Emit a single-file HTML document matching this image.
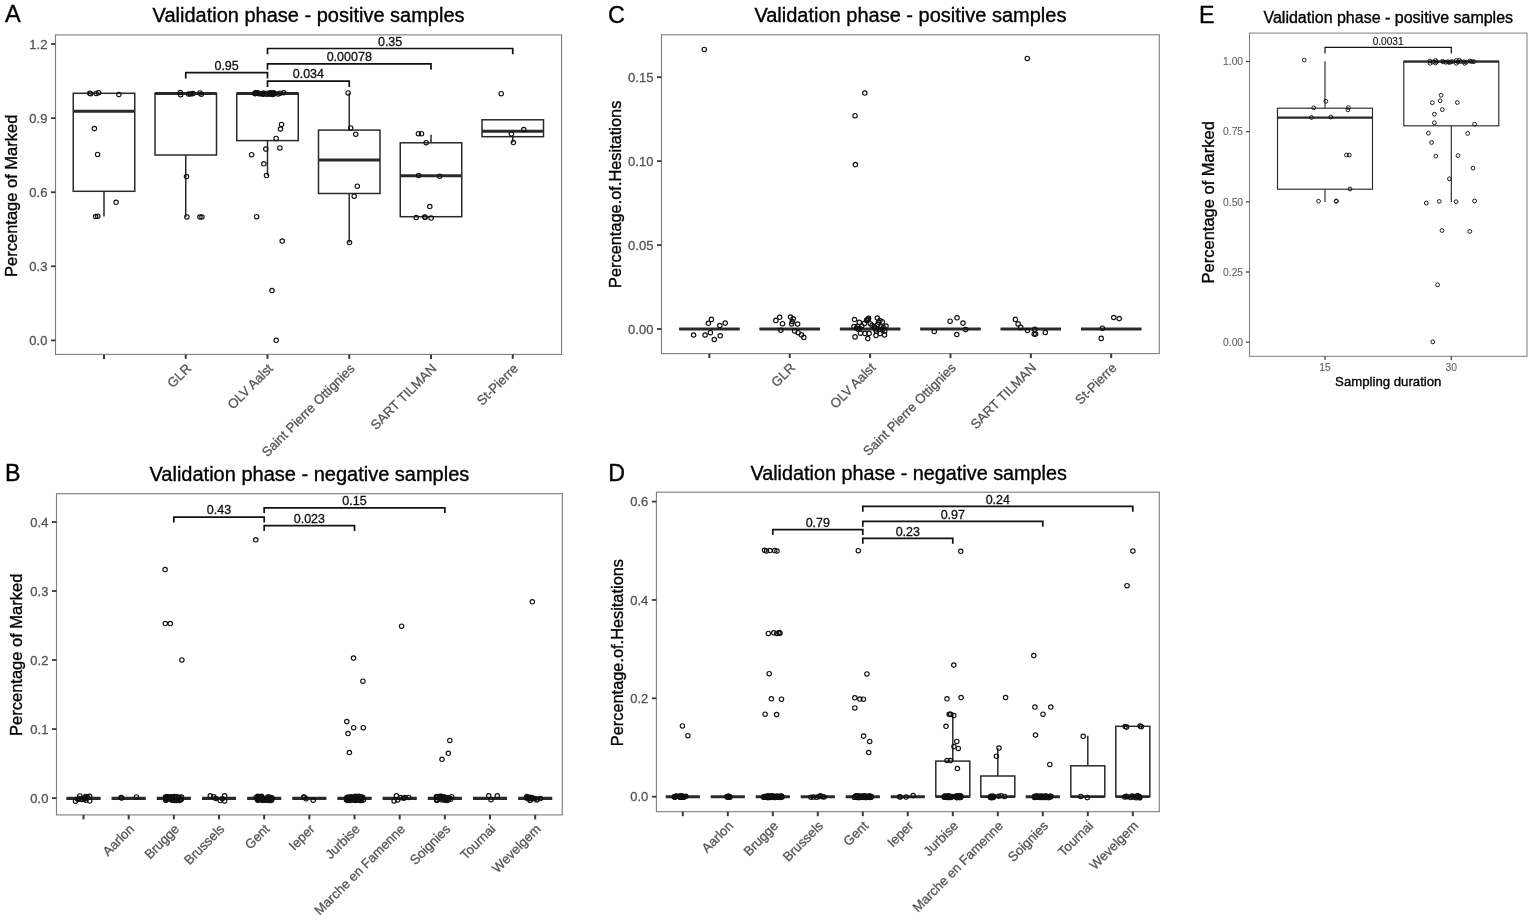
<!DOCTYPE html>
<html lang="en">
<head>
<meta charset="utf-8">
<title>Validation phase - positive and negative samples</title>
<style>
html,body{margin:0;padding:0;background:#fff;}
body{width:1535px;height:922px;overflow:hidden;}
svg{display:block;font-family:'Liberation Sans', Arial, Helvetica, sans-serif;}
</style>
</head>
<body>
<svg width="1535" height="922" viewBox="0 0 1535 922" font-family="'Liberation Sans', Arial, Helvetica, sans-serif">
<rect x="0" y="0" width="1535" height="922" fill="#ffffff"/>
<text x="4.9" y="22.3" font-size="23.6" text-anchor="start" fill="#000" stroke="#000" stroke-width="0.35">A</text>
<text x="308.55" y="21.7" font-size="20" text-anchor="middle" fill="#000" stroke="#000" stroke-width="0.35">Validation phase - positive samples</text>
<text transform="translate(17.1 195.8) rotate(-90)" font-size="16.5" text-anchor="middle" fill="#000" stroke="#000" stroke-width="0.35">Percentage of Marked</text>
<line x1="104" y1="191.3" x2="104" y2="216.5" stroke="#2a2a2a" stroke-width="1.5" stroke-linecap="butt"/>
<rect x="73.25" y="93.3" width="61.5" height="98" fill="#fff" stroke="#2a2a2a" stroke-width="1.5" stroke-linejoin="miter"/>
<line x1="73.25" y1="111.2" x2="134.75" y2="111.2" stroke="#2a2a2a" stroke-width="3.0" stroke-linecap="butt"/>
<line x1="185.75" y1="155" x2="185.75" y2="216.9" stroke="#2a2a2a" stroke-width="1.5" stroke-linecap="butt"/>
<rect x="155" y="93.3" width="61.5" height="61.7" fill="#fff" stroke="#2a2a2a" stroke-width="1.5" stroke-linejoin="miter"/>
<line x1="155" y1="93.5" x2="216.5" y2="93.5" stroke="#2a2a2a" stroke-width="3.0" stroke-linecap="butt"/>
<line x1="267.5" y1="140.6" x2="267.5" y2="175.5" stroke="#2a2a2a" stroke-width="1.5" stroke-linecap="butt"/>
<rect x="236.75" y="93.3" width="61.5" height="47.3" fill="#fff" stroke="#2a2a2a" stroke-width="1.5" stroke-linejoin="miter"/>
<line x1="236.75" y1="93.5" x2="298.25" y2="93.5" stroke="#2a2a2a" stroke-width="3.0" stroke-linecap="butt"/>
<line x1="349.25" y1="193.5" x2="349.25" y2="242.5" stroke="#2a2a2a" stroke-width="1.5" stroke-linecap="butt"/>
<line x1="349.25" y1="130.1" x2="349.25" y2="92.9" stroke="#2a2a2a" stroke-width="1.5" stroke-linecap="butt"/>
<rect x="318.5" y="130.1" width="61.5" height="63.4" fill="#fff" stroke="#2a2a2a" stroke-width="1.5" stroke-linejoin="miter"/>
<line x1="318.5" y1="160.1" x2="380" y2="160.1" stroke="#2a2a2a" stroke-width="3.0" stroke-linecap="butt"/>
<line x1="431" y1="142.8" x2="431" y2="134.7" stroke="#2a2a2a" stroke-width="1.5" stroke-linecap="butt"/>
<rect x="400.25" y="142.8" width="61.5" height="73.9" fill="#fff" stroke="#2a2a2a" stroke-width="1.5" stroke-linejoin="miter"/>
<line x1="400.25" y1="175.7" x2="461.75" y2="175.7" stroke="#2a2a2a" stroke-width="3.0" stroke-linecap="butt"/>
<line x1="512.75" y1="136.7" x2="512.75" y2="142.6" stroke="#2a2a2a" stroke-width="1.5" stroke-linecap="butt"/>
<rect x="482" y="119.8" width="61.5" height="16.9" fill="#fff" stroke="#2a2a2a" stroke-width="1.5" stroke-linejoin="miter"/>
<line x1="482" y1="131.3" x2="543.5" y2="131.3" stroke="#2a2a2a" stroke-width="3.0" stroke-linecap="butt"/>
<path d="M185.75 78.5V72.7H267.5V78.5" fill="none" stroke="#111111" stroke-width="1.7"/>
<text x="226.62" y="69.8" font-size="12.5" text-anchor="middle" fill="#111" stroke="#111" stroke-width="0.3">0.95</text>
<path d="M267.5 86.9V81.1H349.25V86.9" fill="none" stroke="#111111" stroke-width="1.7"/>
<text x="308.38" y="78.2" font-size="12.5" text-anchor="middle" fill="#111" stroke="#111" stroke-width="0.3">0.034</text>
<path d="M267.5 69.7V63.9H431V69.7" fill="none" stroke="#111111" stroke-width="1.7"/>
<text x="349.25" y="61" font-size="12.5" text-anchor="middle" fill="#111" stroke="#111" stroke-width="0.3">0.00078</text>
<path d="M267.5 54.3V48.5H512.75V54.3" fill="none" stroke="#111111" stroke-width="1.7"/>
<text x="390.12" y="45.7" font-size="12.5" text-anchor="middle" fill="#111" stroke="#111" stroke-width="0.3">0.35</text>
<g fill="none" stroke="#111111" stroke-width="1.15"><circle cx="89.8" cy="93.2" r="2.2"/><circle cx="90.6" cy="93.8" r="2.2"/><circle cx="96.1" cy="93.4" r="2.2"/><circle cx="98.6" cy="92.7" r="2.2"/><circle cx="118.9" cy="94.4" r="2.2"/><circle cx="94.4" cy="128.6" r="2.2"/><circle cx="97.6" cy="154.4" r="2.2"/><circle cx="116.1" cy="202.3" r="2.2"/><circle cx="95.7" cy="216.5" r="2.2"/><circle cx="97.8" cy="216.2" r="2.2"/><circle cx="180.3" cy="92.5" r="2.2"/><circle cx="180.6" cy="94.7" r="2.2"/><circle cx="188.6" cy="93.9" r="2.2"/><circle cx="190.6" cy="93.9" r="2.2"/><circle cx="193.1" cy="93.6" r="2.2"/><circle cx="199.9" cy="92.9" r="2.2"/><circle cx="201.3" cy="94.2" r="2.2"/><circle cx="186.5" cy="176.5" r="2.2"/><circle cx="186.9" cy="216.9" r="2.2"/><circle cx="199.9" cy="217" r="2.2"/><circle cx="201.9" cy="217" r="2.2"/><circle cx="281.5" cy="124.4" r="2.2"/><circle cx="280.5" cy="129.1" r="2.2"/><circle cx="276.1" cy="138.4" r="2.2"/><circle cx="279.9" cy="147.9" r="2.2"/><circle cx="265.8" cy="149.1" r="2.2"/><circle cx="251.6" cy="154.7" r="2.2"/><circle cx="263.9" cy="163.8" r="2.2"/><circle cx="266.5" cy="175.5" r="2.2"/><circle cx="256.6" cy="216.7" r="2.2"/><circle cx="282.2" cy="241" r="2.2"/><circle cx="272" cy="290.5" r="2.2"/><circle cx="276.2" cy="340.3" r="2.2"/><circle cx="348.1" cy="92.9" r="2.2"/><circle cx="350.7" cy="127.9" r="2.2"/><circle cx="355.7" cy="134.2" r="2.2"/><circle cx="357.3" cy="186.2" r="2.2"/><circle cx="354.2" cy="196.2" r="2.2"/><circle cx="349.5" cy="242.5" r="2.2"/><circle cx="418.4" cy="133.7" r="2.2"/><circle cx="421.5" cy="133.7" r="2.2"/><circle cx="426.2" cy="142.7" r="2.2"/><circle cx="418.6" cy="175.5" r="2.2"/><circle cx="439.7" cy="176.2" r="2.2"/><circle cx="429.8" cy="206.5" r="2.2"/><circle cx="416.2" cy="217.5" r="2.2"/><circle cx="424.7" cy="216.9" r="2.2"/><circle cx="425.2" cy="217.2" r="2.2"/><circle cx="431.1" cy="218" r="2.2"/><circle cx="501.2" cy="93.7" r="2.2"/><circle cx="523.8" cy="129.6" r="2.2"/><circle cx="511.4" cy="133.9" r="2.2"/><circle cx="513.4" cy="142.5" r="2.2"/><circle cx="263.54" cy="92.97" r="2.2"/><circle cx="273.68" cy="92.83" r="2.2"/><circle cx="270.11" cy="93.36" r="2.2"/><circle cx="255.3" cy="93.61" r="2.2"/><circle cx="254.66" cy="93.48" r="2.2"/><circle cx="255.67" cy="92.86" r="2.2"/><circle cx="266.66" cy="94.19" r="2.2"/><circle cx="257.34" cy="93.1" r="2.2"/><circle cx="272.95" cy="94.41" r="2.2"/><circle cx="271.39" cy="93.41" r="2.2"/><circle cx="283.76" cy="92.78" r="2.2"/><circle cx="280.11" cy="93.22" r="2.2"/><circle cx="257.97" cy="92.91" r="2.2"/><circle cx="263.06" cy="94.17" r="2.2"/><circle cx="259.1" cy="93.75" r="2.2"/><circle cx="273.31" cy="93.37" r="2.2"/><circle cx="270.48" cy="92.81" r="2.2"/><circle cx="255.35" cy="93.07" r="2.2"/><circle cx="274.59" cy="93.47" r="2.2"/><circle cx="263.24" cy="93.75" r="2.2"/><circle cx="267.55" cy="93.24" r="2.2"/><circle cx="278.13" cy="93.96" r="2.2"/><circle cx="261.07" cy="93.73" r="2.2"/><circle cx="269.78" cy="94.28" r="2.2"/></g>
<rect x="55.5" y="34.9" width="506.1" height="319.5" fill="none" stroke="#7d7d7d" stroke-width="1.1"/>
<line x1="51" y1="340.4" x2="55.5" y2="340.4" stroke="#3a3a3a" stroke-width="1.8" stroke-linecap="butt"/>
<text x="47.4" y="345.05" font-size="13" text-anchor="end" fill="#555555" stroke="#555555" stroke-width="0.3">0.0</text>
<line x1="51" y1="266.3" x2="55.5" y2="266.3" stroke="#3a3a3a" stroke-width="1.8" stroke-linecap="butt"/>
<text x="47.4" y="270.95" font-size="13" text-anchor="end" fill="#555555" stroke="#555555" stroke-width="0.3">0.3</text>
<line x1="51" y1="192.2" x2="55.5" y2="192.2" stroke="#3a3a3a" stroke-width="1.8" stroke-linecap="butt"/>
<text x="47.4" y="196.85" font-size="13" text-anchor="end" fill="#555555" stroke="#555555" stroke-width="0.3">0.6</text>
<line x1="51" y1="118.1" x2="55.5" y2="118.1" stroke="#3a3a3a" stroke-width="1.8" stroke-linecap="butt"/>
<text x="47.4" y="122.75" font-size="13" text-anchor="end" fill="#555555" stroke="#555555" stroke-width="0.3">0.9</text>
<line x1="51" y1="44" x2="55.5" y2="44" stroke="#3a3a3a" stroke-width="1.8" stroke-linecap="butt"/>
<text x="47.4" y="48.65" font-size="13" text-anchor="end" fill="#555555" stroke="#555555" stroke-width="0.3">1.2</text>
<line x1="104" y1="354.4" x2="104" y2="358.9" stroke="#3a3a3a" stroke-width="2.0" stroke-linecap="butt"/>
<line x1="185.75" y1="354.4" x2="185.75" y2="358.9" stroke="#3a3a3a" stroke-width="2.0" stroke-linecap="butt"/>
<text transform="translate(191.95 369.3) rotate(-45)" font-size="13.2" text-anchor="end" fill="#555555" stroke="#555555" stroke-width="0.3">GLR</text>
<line x1="267.5" y1="354.4" x2="267.5" y2="358.9" stroke="#3a3a3a" stroke-width="2.0" stroke-linecap="butt"/>
<text transform="translate(273.7 369.3) rotate(-45)" font-size="13.2" text-anchor="end" fill="#555555" stroke="#555555" stroke-width="0.3">OLV Aalst</text>
<line x1="349.25" y1="354.4" x2="349.25" y2="358.9" stroke="#3a3a3a" stroke-width="2.0" stroke-linecap="butt"/>
<text transform="translate(355.45 369.3) rotate(-45)" font-size="13.2" text-anchor="end" fill="#555555" stroke="#555555" stroke-width="0.3">Saint Pierre Ottignies</text>
<line x1="431" y1="354.4" x2="431" y2="358.9" stroke="#3a3a3a" stroke-width="2.0" stroke-linecap="butt"/>
<text transform="translate(437.2 369.3) rotate(-45)" font-size="13.2" text-anchor="end" fill="#555555" stroke="#555555" stroke-width="0.3">SART TILMAN</text>
<line x1="512.75" y1="354.4" x2="512.75" y2="358.9" stroke="#3a3a3a" stroke-width="2.0" stroke-linecap="butt"/>
<text transform="translate(518.95 369.3) rotate(-45)" font-size="13.2" text-anchor="end" fill="#555555" stroke="#555555" stroke-width="0.3">St-Pierre</text>
<text x="4.9" y="481.1" font-size="23.2" text-anchor="start" fill="#000" stroke="#000" stroke-width="0.35">B</text>
<text x="309.4" y="481" font-size="20" text-anchor="middle" fill="#000" stroke="#000" stroke-width="0.35">Validation phase - negative samples</text>
<text transform="translate(22 654.8) rotate(-90)" font-size="16.5" text-anchor="middle" fill="#000" stroke="#000" stroke-width="0.35">Percentage of Marked</text>
<line x1="66.5" y1="798.4" x2="100.5" y2="798.4" stroke="#2a2a2a" stroke-width="1.5" stroke-linecap="butt"/>
<line x1="66.5" y1="798.4" x2="100.5" y2="798.4" stroke="#2a2a2a" stroke-width="3.1" stroke-linecap="butt"/>
<line x1="111.67" y1="798.4" x2="145.67" y2="798.4" stroke="#2a2a2a" stroke-width="1.5" stroke-linecap="butt"/>
<line x1="111.67" y1="798.4" x2="145.67" y2="798.4" stroke="#2a2a2a" stroke-width="3.1" stroke-linecap="butt"/>
<line x1="156.84" y1="798.4" x2="190.84" y2="798.4" stroke="#2a2a2a" stroke-width="1.5" stroke-linecap="butt"/>
<line x1="156.84" y1="798.4" x2="190.84" y2="798.4" stroke="#2a2a2a" stroke-width="3.1" stroke-linecap="butt"/>
<line x1="202.01" y1="798.4" x2="236.01" y2="798.4" stroke="#2a2a2a" stroke-width="1.5" stroke-linecap="butt"/>
<line x1="202.01" y1="798.4" x2="236.01" y2="798.4" stroke="#2a2a2a" stroke-width="3.1" stroke-linecap="butt"/>
<line x1="247.18" y1="798.4" x2="281.18" y2="798.4" stroke="#2a2a2a" stroke-width="1.5" stroke-linecap="butt"/>
<line x1="247.18" y1="798.4" x2="281.18" y2="798.4" stroke="#2a2a2a" stroke-width="3.1" stroke-linecap="butt"/>
<line x1="292.35" y1="798.4" x2="326.35" y2="798.4" stroke="#2a2a2a" stroke-width="1.5" stroke-linecap="butt"/>
<line x1="292.35" y1="798.4" x2="326.35" y2="798.4" stroke="#2a2a2a" stroke-width="3.1" stroke-linecap="butt"/>
<line x1="337.52" y1="798.4" x2="371.52" y2="798.4" stroke="#2a2a2a" stroke-width="1.5" stroke-linecap="butt"/>
<line x1="337.52" y1="798.4" x2="371.52" y2="798.4" stroke="#2a2a2a" stroke-width="3.1" stroke-linecap="butt"/>
<line x1="382.69" y1="798.4" x2="416.69" y2="798.4" stroke="#2a2a2a" stroke-width="1.5" stroke-linecap="butt"/>
<line x1="382.69" y1="798.4" x2="416.69" y2="798.4" stroke="#2a2a2a" stroke-width="3.1" stroke-linecap="butt"/>
<line x1="427.86" y1="798.4" x2="461.86" y2="798.4" stroke="#2a2a2a" stroke-width="1.5" stroke-linecap="butt"/>
<line x1="427.86" y1="798.4" x2="461.86" y2="798.4" stroke="#2a2a2a" stroke-width="3.1" stroke-linecap="butt"/>
<line x1="473.03" y1="798.4" x2="507.03" y2="798.4" stroke="#2a2a2a" stroke-width="1.5" stroke-linecap="butt"/>
<line x1="473.03" y1="798.4" x2="507.03" y2="798.4" stroke="#2a2a2a" stroke-width="3.1" stroke-linecap="butt"/>
<line x1="518.2" y1="798.4" x2="552.2" y2="798.4" stroke="#2a2a2a" stroke-width="1.5" stroke-linecap="butt"/>
<line x1="518.2" y1="798.4" x2="552.2" y2="798.4" stroke="#2a2a2a" stroke-width="3.1" stroke-linecap="butt"/>
<path d="M173.84 522.4V517.1H264.18V522.4" fill="none" stroke="#111111" stroke-width="1.7"/>
<text x="219.01" y="514" font-size="12.5" text-anchor="middle" fill="#111" stroke="#111" stroke-width="0.3">0.43</text>
<path d="M264.18 530.9V525.6H354.52V530.9" fill="none" stroke="#111111" stroke-width="1.7"/>
<text x="309.35" y="523.2" font-size="12.5" text-anchor="middle" fill="#111" stroke="#111" stroke-width="0.3">0.023</text>
<path d="M264.18 513.1V507.8H444.86V513.1" fill="none" stroke="#111111" stroke-width="1.7"/>
<text x="354.52" y="505" font-size="12.5" text-anchor="middle" fill="#111" stroke="#111" stroke-width="0.3">0.15</text>
<g fill="none" stroke="#111111" stroke-width="1.15"><circle cx="165.1" cy="569.5" r="2.2"/><circle cx="255.8" cy="539.8" r="2.2"/><circle cx="165.3" cy="623.5" r="2.2"/><circle cx="170.3" cy="623.5" r="2.2"/><circle cx="181.9" cy="659.9" r="2.2"/><circle cx="401.6" cy="626.2" r="2.2"/><circle cx="532.3" cy="601.8" r="2.2"/><circle cx="353.5" cy="658.1" r="2.2"/><circle cx="362.9" cy="681.2" r="2.2"/><circle cx="346.8" cy="721.6" r="2.2"/><circle cx="353.7" cy="727.7" r="2.2"/><circle cx="363.3" cy="727.7" r="2.2"/><circle cx="348" cy="733.5" r="2.2"/><circle cx="349.4" cy="752.5" r="2.2"/><circle cx="449.8" cy="740.4" r="2.2"/><circle cx="448.3" cy="753.3" r="2.2"/><circle cx="442" cy="759.3" r="2.2"/><circle cx="121.1" cy="797.6" r="2.2"/><circle cx="121.6" cy="798" r="2.2"/><circle cx="136.4" cy="796.9" r="2.2"/><circle cx="303.8" cy="797" r="2.2"/><circle cx="304.2" cy="797.3" r="2.2"/><circle cx="306.1" cy="798.8" r="2.2"/><circle cx="313.2" cy="800.2" r="2.2"/><circle cx="488.7" cy="795.8" r="2.2"/><circle cx="497.3" cy="795.8" r="2.2"/><circle cx="491" cy="799.7" r="2.2"/><circle cx="396.4" cy="795.8" r="2.2"/><circle cx="394.1" cy="800.9" r="2.2"/><circle cx="397.6" cy="799.9" r="2.2"/><circle cx="400.5" cy="797.6" r="2.2"/><circle cx="403.5" cy="798.2" r="2.2"/><circle cx="405.2" cy="797.6" r="2.2"/><circle cx="408.7" cy="797.4" r="2.2"/><circle cx="210.3" cy="795.8" r="2.2"/><circle cx="213.8" cy="796.8" r="2.2"/><circle cx="215.8" cy="798.5" r="2.2"/><circle cx="220.2" cy="800.5" r="2.2"/><circle cx="224.6" cy="795.8" r="2.2"/><circle cx="224.6" cy="801.1" r="2.2"/><circle cx="222.3" cy="798.8" r="2.2"/><circle cx="75.5" cy="801.2" r="2.2"/><circle cx="89.6" cy="796.3" r="2.2"/><circle cx="89.7" cy="801" r="2.2"/><circle cx="85.6" cy="796.4" r="2.2"/><circle cx="79.8" cy="795.9" r="2.2"/><circle cx="84.79" cy="797.65" r="2.2"/><circle cx="87.3" cy="796.97" r="2.2"/><circle cx="81.68" cy="799.53" r="2.2"/><circle cx="79.02" cy="798.46" r="2.2"/><circle cx="77.89" cy="799.17" r="2.2"/><circle cx="85.15" cy="798.79" r="2.2"/><circle cx="86.25" cy="797.75" r="2.2"/><circle cx="84.45" cy="798.88" r="2.2"/><circle cx="83.3" cy="798.32" r="2.2"/><circle cx="85.9" cy="800.28" r="2.2"/><circle cx="82.24" cy="799.16" r="2.2"/><circle cx="78.11" cy="799.31" r="2.2"/><circle cx="176.31" cy="800.47" r="2.2"/><circle cx="179.23" cy="797.64" r="2.2"/><circle cx="171.94" cy="799.17" r="2.2"/><circle cx="165.88" cy="798.35" r="2.2"/><circle cx="168.31" cy="796.97" r="2.2"/><circle cx="166.48" cy="799.57" r="2.2"/><circle cx="167.66" cy="797.49" r="2.2"/><circle cx="172.03" cy="799.99" r="2.2"/><circle cx="166.85" cy="798.3" r="2.2"/><circle cx="174.68" cy="800.03" r="2.2"/><circle cx="179.18" cy="799.96" r="2.2"/><circle cx="170.15" cy="798.16" r="2.2"/><circle cx="171.49" cy="800.04" r="2.2"/><circle cx="181.49" cy="797.1" r="2.2"/><circle cx="168.44" cy="797.43" r="2.2"/><circle cx="169.4" cy="798.44" r="2.2"/><circle cx="175.34" cy="797.55" r="2.2"/><circle cx="165.57" cy="798.18" r="2.2"/><circle cx="171.67" cy="798.77" r="2.2"/><circle cx="181.42" cy="799.26" r="2.2"/><circle cx="174.11" cy="798.97" r="2.2"/><circle cx="176.79" cy="796.72" r="2.2"/><circle cx="180.52" cy="799.62" r="2.2"/><circle cx="180.1" cy="799.69" r="2.2"/><circle cx="172.05" cy="798.1" r="2.2"/><circle cx="167.23" cy="799.04" r="2.2"/><circle cx="166.54" cy="796.77" r="2.2"/><circle cx="168.99" cy="797.15" r="2.2"/><circle cx="171.18" cy="796.71" r="2.2"/><circle cx="165.5" cy="797.11" r="2.2"/><circle cx="167.19" cy="797.95" r="2.2"/><circle cx="165.93" cy="800" r="2.2"/><circle cx="175.75" cy="797.09" r="2.2"/><circle cx="169.71" cy="797.89" r="2.2"/><circle cx="171.58" cy="796.99" r="2.2"/><circle cx="179.68" cy="800.47" r="2.2"/><circle cx="173.28" cy="798.44" r="2.2"/><circle cx="166.93" cy="796.91" r="2.2"/><circle cx="171.22" cy="797.56" r="2.2"/><circle cx="179.34" cy="797.15" r="2.2"/><circle cx="165.89" cy="800.3" r="2.2"/><circle cx="174.32" cy="797.09" r="2.2"/><circle cx="174.57" cy="796.61" r="2.2"/><circle cx="174.32" cy="800.41" r="2.2"/><circle cx="179.92" cy="799.28" r="2.2"/><circle cx="259.96" cy="797.81" r="2.2"/><circle cx="258.39" cy="799.6" r="2.2"/><circle cx="264.49" cy="799.63" r="2.2"/><circle cx="261.11" cy="797.18" r="2.2"/><circle cx="269.15" cy="800.53" r="2.2"/><circle cx="269.84" cy="799.75" r="2.2"/><circle cx="269.27" cy="799.46" r="2.2"/><circle cx="259.39" cy="798.48" r="2.2"/><circle cx="261.54" cy="796.33" r="2.2"/><circle cx="256.07" cy="797.43" r="2.2"/><circle cx="259.93" cy="799.25" r="2.2"/><circle cx="271.57" cy="798.17" r="2.2"/><circle cx="271.25" cy="800.55" r="2.2"/><circle cx="271.55" cy="797.8" r="2.2"/><circle cx="259.28" cy="797.2" r="2.2"/><circle cx="258.88" cy="797.1" r="2.2"/><circle cx="266.02" cy="800.16" r="2.2"/><circle cx="269.64" cy="798.31" r="2.2"/><circle cx="266.5" cy="799.72" r="2.2"/><circle cx="257.02" cy="799.11" r="2.2"/><circle cx="270.79" cy="799.64" r="2.2"/><circle cx="268.13" cy="798.3" r="2.2"/><circle cx="258.58" cy="799.67" r="2.2"/><circle cx="261.15" cy="799.72" r="2.2"/><circle cx="271.83" cy="797.94" r="2.2"/><circle cx="262.3" cy="800.37" r="2.2"/><circle cx="267.7" cy="796.95" r="2.2"/><circle cx="257.72" cy="796.87" r="2.2"/><circle cx="270.71" cy="799.75" r="2.2"/><circle cx="258.04" cy="799.84" r="2.2"/><circle cx="271.97" cy="799.09" r="2.2"/><circle cx="261.45" cy="798.61" r="2.2"/><circle cx="257.79" cy="796.26" r="2.2"/><circle cx="271.81" cy="799.06" r="2.2"/><circle cx="264.39" cy="800.31" r="2.2"/><circle cx="262.84" cy="800.04" r="2.2"/><circle cx="269.4" cy="797.13" r="2.2"/><circle cx="259.81" cy="797.49" r="2.2"/><circle cx="259.62" cy="798.78" r="2.2"/><circle cx="259.93" cy="798.04" r="2.2"/><circle cx="257.79" cy="800.2" r="2.2"/><circle cx="261.51" cy="798.22" r="2.2"/><circle cx="265.34" cy="800.18" r="2.2"/><circle cx="262.62" cy="800.24" r="2.2"/><circle cx="263.98" cy="798.54" r="2.2"/><circle cx="355.46" cy="796.28" r="2.2"/><circle cx="354.01" cy="797.01" r="2.2"/><circle cx="346.47" cy="799.72" r="2.2"/><circle cx="349.38" cy="798.28" r="2.2"/><circle cx="358.95" cy="798.65" r="2.2"/><circle cx="352.04" cy="798.48" r="2.2"/><circle cx="356.01" cy="799.65" r="2.2"/><circle cx="348.24" cy="798.67" r="2.2"/><circle cx="350.7" cy="797.42" r="2.2"/><circle cx="359.76" cy="798.43" r="2.2"/><circle cx="356.12" cy="799.54" r="2.2"/><circle cx="362.19" cy="798.15" r="2.2"/><circle cx="357" cy="798.42" r="2.2"/><circle cx="355.26" cy="799.25" r="2.2"/><circle cx="354.23" cy="798.55" r="2.2"/><circle cx="354.67" cy="800.34" r="2.2"/><circle cx="358.5" cy="800.06" r="2.2"/><circle cx="362.7" cy="797.34" r="2.2"/><circle cx="356.08" cy="800.35" r="2.2"/><circle cx="360.93" cy="796.8" r="2.2"/><circle cx="348.5" cy="798.15" r="2.2"/><circle cx="347.66" cy="797.26" r="2.2"/><circle cx="347.66" cy="799.15" r="2.2"/><circle cx="359.96" cy="800.15" r="2.2"/><circle cx="349.07" cy="799.35" r="2.2"/><circle cx="357.82" cy="796.83" r="2.2"/><circle cx="361.67" cy="800.46" r="2.2"/><circle cx="350.2" cy="800.39" r="2.2"/><circle cx="353.29" cy="798.34" r="2.2"/><circle cx="363.52" cy="799.86" r="2.2"/><circle cx="349.19" cy="798.1" r="2.2"/><circle cx="355.32" cy="797.69" r="2.2"/><circle cx="349.79" cy="797.6" r="2.2"/><circle cx="358.89" cy="796.29" r="2.2"/><circle cx="355.99" cy="798.14" r="2.2"/><circle cx="346.71" cy="797.66" r="2.2"/><circle cx="357.19" cy="798.45" r="2.2"/><circle cx="347.51" cy="800.53" r="2.2"/><circle cx="360.04" cy="800.48" r="2.2"/><circle cx="348.21" cy="797.37" r="2.2"/><circle cx="347.08" cy="799.63" r="2.2"/><circle cx="351.08" cy="796.77" r="2.2"/><circle cx="353.7" cy="800.21" r="2.2"/><circle cx="360.57" cy="797.34" r="2.2"/><circle cx="348.98" cy="800.24" r="2.2"/><circle cx="445.41" cy="799.28" r="2.2"/><circle cx="437.14" cy="796.45" r="2.2"/><circle cx="447.44" cy="798.07" r="2.2"/><circle cx="436.85" cy="800.33" r="2.2"/><circle cx="446.51" cy="799.73" r="2.2"/><circle cx="437.04" cy="799.97" r="2.2"/><circle cx="436.75" cy="800" r="2.2"/><circle cx="443.4" cy="797.69" r="2.2"/><circle cx="445.11" cy="800.28" r="2.2"/><circle cx="440.21" cy="796.77" r="2.2"/><circle cx="444.66" cy="797.25" r="2.2"/><circle cx="437.48" cy="796.91" r="2.2"/><circle cx="436.47" cy="797.09" r="2.2"/><circle cx="440.97" cy="797.54" r="2.2"/><circle cx="448.66" cy="797.48" r="2.2"/><circle cx="444.2" cy="796.98" r="2.2"/><circle cx="441.57" cy="796.28" r="2.2"/><circle cx="439.91" cy="796.27" r="2.2"/><circle cx="448.21" cy="798.62" r="2.2"/><circle cx="438.86" cy="798.29" r="2.2"/><circle cx="451.68" cy="796.67" r="2.2"/><circle cx="449.69" cy="798.1" r="2.2"/><circle cx="444.11" cy="799.87" r="2.2"/><circle cx="442.36" cy="798.43" r="2.2"/><circle cx="447.43" cy="800.52" r="2.2"/><circle cx="441.49" cy="799.86" r="2.2"/><circle cx="447.76" cy="799" r="2.2"/><circle cx="442.56" cy="797.73" r="2.2"/><circle cx="436.54" cy="796.77" r="2.2"/><circle cx="436.82" cy="799.46" r="2.2"/><circle cx="440" cy="796.92" r="2.2"/><circle cx="437.05" cy="799.9" r="2.2"/><circle cx="450.57" cy="799.15" r="2.2"/><circle cx="440.45" cy="797.27" r="2.2"/><circle cx="440.64" cy="798.22" r="2.2"/><circle cx="528.67" cy="798.18" r="2.2"/><circle cx="530.19" cy="800.25" r="2.2"/><circle cx="540.41" cy="798.59" r="2.2"/><circle cx="529.92" cy="800.26" r="2.2"/><circle cx="530.86" cy="797.83" r="2.2"/><circle cx="526.42" cy="797.93" r="2.2"/><circle cx="533.23" cy="798.41" r="2.2"/><circle cx="529.29" cy="798.42" r="2.2"/><circle cx="526.47" cy="797.46" r="2.2"/><circle cx="527.69" cy="798" r="2.2"/><circle cx="527" cy="796.49" r="2.2"/><circle cx="530.78" cy="797.33" r="2.2"/><circle cx="534.83" cy="798.52" r="2.2"/><circle cx="537.21" cy="799.03" r="2.2"/><circle cx="536.71" cy="799.92" r="2.2"/><circle cx="532.01" cy="797.7" r="2.2"/></g>
<rect x="56.5" y="493.7" width="505.8" height="321.2" fill="none" stroke="#7d7d7d" stroke-width="1.1"/>
<line x1="52" y1="798.1" x2="56.5" y2="798.1" stroke="#3a3a3a" stroke-width="1.8" stroke-linecap="butt"/>
<text x="48.4" y="802.75" font-size="13" text-anchor="end" fill="#555555" stroke="#555555" stroke-width="0.3">0.0</text>
<line x1="52" y1="729.07" x2="56.5" y2="729.07" stroke="#3a3a3a" stroke-width="1.8" stroke-linecap="butt"/>
<text x="48.4" y="733.72" font-size="13" text-anchor="end" fill="#555555" stroke="#555555" stroke-width="0.3">0.1</text>
<line x1="52" y1="660.04" x2="56.5" y2="660.04" stroke="#3a3a3a" stroke-width="1.8" stroke-linecap="butt"/>
<text x="48.4" y="664.69" font-size="13" text-anchor="end" fill="#555555" stroke="#555555" stroke-width="0.3">0.2</text>
<line x1="52" y1="591.01" x2="56.5" y2="591.01" stroke="#3a3a3a" stroke-width="1.8" stroke-linecap="butt"/>
<text x="48.4" y="595.66" font-size="13" text-anchor="end" fill="#555555" stroke="#555555" stroke-width="0.3">0.3</text>
<line x1="52" y1="521.98" x2="56.5" y2="521.98" stroke="#3a3a3a" stroke-width="1.8" stroke-linecap="butt"/>
<text x="48.4" y="526.63" font-size="13" text-anchor="end" fill="#555555" stroke="#555555" stroke-width="0.3">0.4</text>
<line x1="83.5" y1="814.9" x2="83.5" y2="819.4" stroke="#3a3a3a" stroke-width="2.0" stroke-linecap="butt"/>
<line x1="128.67" y1="814.9" x2="128.67" y2="819.4" stroke="#3a3a3a" stroke-width="2.0" stroke-linecap="butt"/>
<text transform="translate(134.87 829.8) rotate(-45)" font-size="13.2" text-anchor="end" fill="#555555" stroke="#555555" stroke-width="0.3">Aarlon</text>
<line x1="173.84" y1="814.9" x2="173.84" y2="819.4" stroke="#3a3a3a" stroke-width="2.0" stroke-linecap="butt"/>
<text transform="translate(180.04 829.8) rotate(-45)" font-size="13.2" text-anchor="end" fill="#555555" stroke="#555555" stroke-width="0.3">Brugge</text>
<line x1="219.01" y1="814.9" x2="219.01" y2="819.4" stroke="#3a3a3a" stroke-width="2.0" stroke-linecap="butt"/>
<text transform="translate(225.21 829.8) rotate(-45)" font-size="13.2" text-anchor="end" fill="#555555" stroke="#555555" stroke-width="0.3">Brussels</text>
<line x1="264.18" y1="814.9" x2="264.18" y2="819.4" stroke="#3a3a3a" stroke-width="2.0" stroke-linecap="butt"/>
<text transform="translate(270.38 829.8) rotate(-45)" font-size="13.2" text-anchor="end" fill="#555555" stroke="#555555" stroke-width="0.3">Gent</text>
<line x1="309.35" y1="814.9" x2="309.35" y2="819.4" stroke="#3a3a3a" stroke-width="2.0" stroke-linecap="butt"/>
<text transform="translate(315.55 829.8) rotate(-45)" font-size="13.2" text-anchor="end" fill="#555555" stroke="#555555" stroke-width="0.3">Ieper</text>
<line x1="354.52" y1="814.9" x2="354.52" y2="819.4" stroke="#3a3a3a" stroke-width="2.0" stroke-linecap="butt"/>
<text transform="translate(360.72 829.8) rotate(-45)" font-size="13.2" text-anchor="end" fill="#555555" stroke="#555555" stroke-width="0.3">Jurbise</text>
<line x1="399.69" y1="814.9" x2="399.69" y2="819.4" stroke="#3a3a3a" stroke-width="2.0" stroke-linecap="butt"/>
<text transform="translate(405.89 829.8) rotate(-45)" font-size="13.2" text-anchor="end" fill="#555555" stroke="#555555" stroke-width="0.3">Marche en Famenne</text>
<line x1="444.86" y1="814.9" x2="444.86" y2="819.4" stroke="#3a3a3a" stroke-width="2.0" stroke-linecap="butt"/>
<text transform="translate(451.06 829.8) rotate(-45)" font-size="13.2" text-anchor="end" fill="#555555" stroke="#555555" stroke-width="0.3">Soignies</text>
<line x1="490.03" y1="814.9" x2="490.03" y2="819.4" stroke="#3a3a3a" stroke-width="2.0" stroke-linecap="butt"/>
<text transform="translate(496.23 829.8) rotate(-45)" font-size="13.2" text-anchor="end" fill="#555555" stroke="#555555" stroke-width="0.3">Tournai</text>
<line x1="535.2" y1="814.9" x2="535.2" y2="819.4" stroke="#3a3a3a" stroke-width="2.0" stroke-linecap="butt"/>
<text transform="translate(541.4 829.8) rotate(-45)" font-size="13.2" text-anchor="end" fill="#555555" stroke="#555555" stroke-width="0.3">Wevelgem</text>
<text x="608" y="22.9" font-size="23.4" text-anchor="start" fill="#000" stroke="#000" stroke-width="0.35">C</text>
<text x="910.4" y="22.3" font-size="20" text-anchor="middle" fill="#000" stroke="#000" stroke-width="0.35">Validation phase - positive samples</text>
<text transform="translate(620.6 194.3) rotate(-90)" font-size="16.38" text-anchor="middle" fill="#000" stroke="#000" stroke-width="0.35">Percentage.of.Hesitations</text>
<line x1="679.2" y1="329" x2="739.6" y2="329" stroke="#2a2a2a" stroke-width="1.5" stroke-linecap="butt"/>
<line x1="679.2" y1="329" x2="739.6" y2="329" stroke="#2a2a2a" stroke-width="3.1" stroke-linecap="butt"/>
<line x1="759.56" y1="329" x2="819.96" y2="329" stroke="#2a2a2a" stroke-width="1.5" stroke-linecap="butt"/>
<line x1="759.56" y1="329" x2="819.96" y2="329" stroke="#2a2a2a" stroke-width="3.1" stroke-linecap="butt"/>
<line x1="839.92" y1="329" x2="900.32" y2="329" stroke="#2a2a2a" stroke-width="1.5" stroke-linecap="butt"/>
<line x1="839.92" y1="329" x2="900.32" y2="329" stroke="#2a2a2a" stroke-width="3.1" stroke-linecap="butt"/>
<line x1="920.28" y1="329" x2="980.68" y2="329" stroke="#2a2a2a" stroke-width="1.5" stroke-linecap="butt"/>
<line x1="920.28" y1="329" x2="980.68" y2="329" stroke="#2a2a2a" stroke-width="3.1" stroke-linecap="butt"/>
<line x1="1000.64" y1="329" x2="1061.04" y2="329" stroke="#2a2a2a" stroke-width="1.5" stroke-linecap="butt"/>
<line x1="1000.64" y1="329" x2="1061.04" y2="329" stroke="#2a2a2a" stroke-width="3.1" stroke-linecap="butt"/>
<line x1="1081" y1="329" x2="1141.4" y2="329" stroke="#2a2a2a" stroke-width="1.5" stroke-linecap="butt"/>
<line x1="1081" y1="329" x2="1141.4" y2="329" stroke="#2a2a2a" stroke-width="3.1" stroke-linecap="butt"/>
<g fill="none" stroke="#111111" stroke-width="1.15"><circle cx="704.3" cy="49.4" r="2.2"/><circle cx="864.8" cy="93" r="2.2"/><circle cx="855" cy="115.7" r="2.2"/><circle cx="855.4" cy="164.6" r="2.2"/><circle cx="1027.3" cy="58.4" r="2.2"/><circle cx="711.4" cy="319.4" r="2.2"/><circle cx="708.4" cy="323.3" r="2.2"/><circle cx="725.2" cy="323.1" r="2.2"/><circle cx="719.8" cy="325.5" r="2.2"/><circle cx="710.4" cy="332.7" r="2.2"/><circle cx="705.1" cy="335" r="2.2"/><circle cx="693.6" cy="335" r="2.2"/><circle cx="720.2" cy="335.8" r="2.2"/><circle cx="714.3" cy="339.5" r="2.2"/><circle cx="779.6" cy="317.3" r="2.2"/><circle cx="775.9" cy="320.4" r="2.2"/><circle cx="790.5" cy="317.1" r="2.2"/><circle cx="793.2" cy="318.8" r="2.2"/><circle cx="792.3" cy="321.6" r="2.2"/><circle cx="791.7" cy="323.9" r="2.2"/><circle cx="782.5" cy="323.7" r="2.2"/><circle cx="797.6" cy="324.1" r="2.2"/><circle cx="780.9" cy="330.2" r="2.2"/><circle cx="794.6" cy="330.9" r="2.2"/><circle cx="798.1" cy="332.7" r="2.2"/><circle cx="801.5" cy="334.9" r="2.2"/><circle cx="803.8" cy="337.4" r="2.2"/><circle cx="934.3" cy="331.5" r="2.2"/><circle cx="950.1" cy="321.2" r="2.2"/><circle cx="957" cy="317.8" r="2.2"/><circle cx="963" cy="323.1" r="2.2"/><circle cx="965.6" cy="329.6" r="2.2"/><circle cx="956.8" cy="334.5" r="2.2"/><circle cx="1015.4" cy="319.4" r="2.2"/><circle cx="1018.1" cy="323.9" r="2.2"/><circle cx="1020.7" cy="327.4" r="2.2"/><circle cx="1027.5" cy="330.5" r="2.2"/><circle cx="1034.7" cy="329.4" r="2.2"/><circle cx="1034.2" cy="334.1" r="2.2"/><circle cx="1035.7" cy="334.1" r="2.2"/><circle cx="1045.3" cy="332.5" r="2.2"/><circle cx="1113.7" cy="317.5" r="2.2"/><circle cx="1119.2" cy="318.6" r="2.2"/><circle cx="1102.4" cy="328.2" r="2.2"/><circle cx="1101.2" cy="338.4" r="2.2"/><circle cx="854.5" cy="319.5" r="2.2"/><circle cx="859.3" cy="322.4" r="2.2"/><circle cx="853.9" cy="326.5" r="2.2"/><circle cx="857.6" cy="326.3" r="2.2"/><circle cx="861.7" cy="326" r="2.2"/><circle cx="864.5" cy="323.4" r="2.2"/><circle cx="867.3" cy="319.8" r="2.2"/><circle cx="866.6" cy="320.4" r="2.2"/><circle cx="868" cy="319.4" r="2.2"/><circle cx="868.6" cy="318.4" r="2.2"/><circle cx="870.4" cy="323.7" r="2.2"/><circle cx="872.1" cy="325.4" r="2.2"/><circle cx="877.3" cy="318" r="2.2"/><circle cx="879.9" cy="320.6" r="2.2"/><circle cx="882.3" cy="321.9" r="2.2"/><circle cx="877.7" cy="324.5" r="2.2"/><circle cx="880.8" cy="326.7" r="2.2"/><circle cx="886" cy="326" r="2.2"/><circle cx="860.4" cy="333.2" r="2.2"/><circle cx="864.9" cy="333.4" r="2.2"/><circle cx="869.1" cy="333.4" r="2.2"/><circle cx="855" cy="336.9" r="2.2"/><circle cx="867.8" cy="338.6" r="2.2"/><circle cx="876.4" cy="331.5" r="2.2"/><circle cx="876" cy="335.4" r="2.2"/><circle cx="880.1" cy="333.6" r="2.2"/><circle cx="884.5" cy="334.9" r="2.2"/><circle cx="884.7" cy="331" r="2.2"/><circle cx="874.7" cy="328" r="2.2"/><circle cx="879" cy="329.3" r="2.2"/><circle cx="882.5" cy="329.7" r="2.2"/><circle cx="858.2" cy="329.3" r="2.2"/><circle cx="856.5" cy="328" r="2.2"/><circle cx="874.3" cy="326.7" r="2.2"/><circle cx="883.4" cy="327.6" r="2.2"/><circle cx="878.5" cy="322.3" r="2.2"/><circle cx="875.8" cy="329.8" r="2.2"/><circle cx="860" cy="328.6" r="2.2"/></g>
<rect x="661.5" y="34.8" width="497.8" height="318.8" fill="none" stroke="#7d7d7d" stroke-width="1.1"/>
<line x1="657" y1="329" x2="661.5" y2="329" stroke="#3a3a3a" stroke-width="1.8" stroke-linecap="butt"/>
<text x="653.4" y="333.65" font-size="13" text-anchor="end" fill="#555555" stroke="#555555" stroke-width="0.3">0.00</text>
<line x1="657" y1="245.07" x2="661.5" y2="245.07" stroke="#3a3a3a" stroke-width="1.8" stroke-linecap="butt"/>
<text x="653.4" y="249.72" font-size="13" text-anchor="end" fill="#555555" stroke="#555555" stroke-width="0.3">0.05</text>
<line x1="657" y1="161.13" x2="661.5" y2="161.13" stroke="#3a3a3a" stroke-width="1.8" stroke-linecap="butt"/>
<text x="653.4" y="165.79" font-size="13" text-anchor="end" fill="#555555" stroke="#555555" stroke-width="0.3">0.10</text>
<line x1="657" y1="77.2" x2="661.5" y2="77.2" stroke="#3a3a3a" stroke-width="1.8" stroke-linecap="butt"/>
<text x="653.4" y="81.85" font-size="13" text-anchor="end" fill="#555555" stroke="#555555" stroke-width="0.3">0.15</text>
<line x1="709.4" y1="353.6" x2="709.4" y2="358.1" stroke="#3a3a3a" stroke-width="2.0" stroke-linecap="butt"/>
<line x1="789.76" y1="353.6" x2="789.76" y2="358.1" stroke="#3a3a3a" stroke-width="2.0" stroke-linecap="butt"/>
<text transform="translate(795.96 368.5) rotate(-45)" font-size="13.2" text-anchor="end" fill="#555555" stroke="#555555" stroke-width="0.3">GLR</text>
<line x1="870.12" y1="353.6" x2="870.12" y2="358.1" stroke="#3a3a3a" stroke-width="2.0" stroke-linecap="butt"/>
<text transform="translate(876.32 368.5) rotate(-45)" font-size="13.2" text-anchor="end" fill="#555555" stroke="#555555" stroke-width="0.3">OLV Aalst</text>
<line x1="950.48" y1="353.6" x2="950.48" y2="358.1" stroke="#3a3a3a" stroke-width="2.0" stroke-linecap="butt"/>
<text transform="translate(956.68 368.5) rotate(-45)" font-size="13.2" text-anchor="end" fill="#555555" stroke="#555555" stroke-width="0.3">Saint Pierre Ottignies</text>
<line x1="1030.84" y1="353.6" x2="1030.84" y2="358.1" stroke="#3a3a3a" stroke-width="2.0" stroke-linecap="butt"/>
<text transform="translate(1037.04 368.5) rotate(-45)" font-size="13.2" text-anchor="end" fill="#555555" stroke="#555555" stroke-width="0.3">SART TILMAN</text>
<line x1="1111.2" y1="353.6" x2="1111.2" y2="358.1" stroke="#3a3a3a" stroke-width="2.0" stroke-linecap="butt"/>
<text transform="translate(1117.4 368.5) rotate(-45)" font-size="13.2" text-anchor="end" fill="#555555" stroke="#555555" stroke-width="0.3">St-Pierre</text>
<text x="608.3" y="481.1" font-size="23.2" text-anchor="start" fill="#000" stroke="#000" stroke-width="0.35">D</text>
<text x="908.65" y="479.8" font-size="19.8" text-anchor="middle" fill="#000" stroke="#000" stroke-width="0.35">Validation phase - negative samples</text>
<text transform="translate(623.3 652.6) rotate(-90)" font-size="16.35" text-anchor="middle" fill="#000" stroke="#000" stroke-width="0.35">Percentage.of.Hesitations</text>
<line x1="665.8" y1="796.7" x2="699.8" y2="796.7" stroke="#2a2a2a" stroke-width="1.5" stroke-linecap="butt"/>
<line x1="665.8" y1="796.7" x2="699.8" y2="796.7" stroke="#2a2a2a" stroke-width="3.0" stroke-linecap="butt"/>
<line x1="710.8" y1="796.7" x2="744.8" y2="796.7" stroke="#2a2a2a" stroke-width="1.5" stroke-linecap="butt"/>
<line x1="710.8" y1="796.7" x2="744.8" y2="796.7" stroke="#2a2a2a" stroke-width="3.0" stroke-linecap="butt"/>
<line x1="755.8" y1="796.7" x2="789.8" y2="796.7" stroke="#2a2a2a" stroke-width="1.5" stroke-linecap="butt"/>
<line x1="755.8" y1="796.7" x2="789.8" y2="796.7" stroke="#2a2a2a" stroke-width="3.0" stroke-linecap="butt"/>
<line x1="800.8" y1="796.7" x2="834.8" y2="796.7" stroke="#2a2a2a" stroke-width="1.5" stroke-linecap="butt"/>
<line x1="800.8" y1="796.7" x2="834.8" y2="796.7" stroke="#2a2a2a" stroke-width="3.0" stroke-linecap="butt"/>
<line x1="845.8" y1="796.7" x2="879.8" y2="796.7" stroke="#2a2a2a" stroke-width="1.5" stroke-linecap="butt"/>
<line x1="845.8" y1="796.7" x2="879.8" y2="796.7" stroke="#2a2a2a" stroke-width="3.0" stroke-linecap="butt"/>
<line x1="890.8" y1="796.7" x2="924.8" y2="796.7" stroke="#2a2a2a" stroke-width="1.5" stroke-linecap="butt"/>
<line x1="890.8" y1="796.7" x2="924.8" y2="796.7" stroke="#2a2a2a" stroke-width="3.0" stroke-linecap="butt"/>
<line x1="1025.8" y1="796.7" x2="1059.8" y2="796.7" stroke="#2a2a2a" stroke-width="1.5" stroke-linecap="butt"/>
<line x1="1025.8" y1="796.7" x2="1059.8" y2="796.7" stroke="#2a2a2a" stroke-width="3.0" stroke-linecap="butt"/>
<line x1="952.8" y1="761.1" x2="952.8" y2="714.8" stroke="#2a2a2a" stroke-width="1.5" stroke-linecap="butt"/>
<rect x="935.8" y="761.1" width="34" height="35.6" fill="#fff" stroke="#2a2a2a" stroke-width="1.5" stroke-linejoin="miter"/>
<line x1="935.8" y1="796.7" x2="969.8" y2="796.7" stroke="#2a2a2a" stroke-width="2.8" stroke-linecap="butt"/>
<line x1="997.8" y1="776" x2="997.8" y2="748" stroke="#2a2a2a" stroke-width="1.5" stroke-linecap="butt"/>
<rect x="980.8" y="776" width="34" height="20.7" fill="#fff" stroke="#2a2a2a" stroke-width="1.5" stroke-linejoin="miter"/>
<line x1="980.8" y1="796.7" x2="1014.8" y2="796.7" stroke="#2a2a2a" stroke-width="2.8" stroke-linecap="butt"/>
<line x1="1087.8" y1="765.8" x2="1087.8" y2="735.7" stroke="#2a2a2a" stroke-width="1.5" stroke-linecap="butt"/>
<rect x="1070.8" y="765.8" width="34" height="30.9" fill="#fff" stroke="#2a2a2a" stroke-width="1.5" stroke-linejoin="miter"/>
<line x1="1070.8" y1="796.7" x2="1104.8" y2="796.7" stroke="#2a2a2a" stroke-width="2.8" stroke-linecap="butt"/>
<rect x="1115.8" y="726.3" width="34" height="70.4" fill="#fff" stroke="#2a2a2a" stroke-width="1.5" stroke-linejoin="miter"/>
<line x1="1115.8" y1="796.7" x2="1149.8" y2="796.7" stroke="#2a2a2a" stroke-width="2.8" stroke-linecap="butt"/>
<path d="M772.8 535V529.6H862.8V535" fill="none" stroke="#111111" stroke-width="1.7"/>
<text x="817.8" y="526.9" font-size="12.5" text-anchor="middle" fill="#111" stroke="#111" stroke-width="0.3">0.79</text>
<path d="M862.8 543.8V538.4H952.8V543.8" fill="none" stroke="#111111" stroke-width="1.7"/>
<text x="907.8" y="535.6" font-size="12.5" text-anchor="middle" fill="#111" stroke="#111" stroke-width="0.3">0.23</text>
<path d="M862.8 526.8V521.4H1042.8V526.8" fill="none" stroke="#111111" stroke-width="1.7"/>
<text x="952.8" y="518.6" font-size="12.5" text-anchor="middle" fill="#111" stroke="#111" stroke-width="0.3">0.97</text>
<path d="M862.8 511.7V506.3H1132.8V511.7" fill="none" stroke="#111111" stroke-width="1.7"/>
<text x="997.8" y="503.9" font-size="12.5" text-anchor="middle" fill="#111" stroke="#111" stroke-width="0.3">0.24</text>
<g fill="none" stroke="#111111" stroke-width="1.15"><circle cx="764.5" cy="550.3" r="2.2"/><circle cx="766.5" cy="550.9" r="2.2"/><circle cx="770" cy="550.5" r="2.2"/><circle cx="774.7" cy="550.5" r="2.2"/><circle cx="777" cy="550.9" r="2.2"/><circle cx="858.3" cy="550.7" r="2.2"/><circle cx="768.4" cy="633.4" r="2.2"/><circle cx="773.8" cy="632.8" r="2.2"/><circle cx="776.7" cy="633.4" r="2.2"/><circle cx="779.3" cy="632.4" r="2.2"/><circle cx="780" cy="633.2" r="2.2"/><circle cx="779" cy="633" r="2.2"/><circle cx="960.7" cy="551.3" r="2.2"/><circle cx="1132.9" cy="550.9" r="2.2"/><circle cx="1127" cy="585.7" r="2.2"/><circle cx="682.4" cy="725.9" r="2.2"/><circle cx="687.9" cy="735.7" r="2.2"/><circle cx="769.2" cy="673.7" r="2.2"/><circle cx="771.4" cy="698.8" r="2.2"/><circle cx="781.5" cy="699.2" r="2.2"/><circle cx="765.1" cy="714.2" r="2.2"/><circle cx="776.6" cy="714.6" r="2.2"/><circle cx="866.9" cy="673.9" r="2.2"/><circle cx="854.8" cy="697.8" r="2.2"/><circle cx="859.9" cy="699" r="2.2"/><circle cx="863.4" cy="699.2" r="2.2"/><circle cx="854.8" cy="707.9" r="2.2"/><circle cx="863.6" cy="736.1" r="2.2"/><circle cx="869.7" cy="741.4" r="2.2"/><circle cx="868.7" cy="752.5" r="2.2"/><circle cx="953.8" cy="665.1" r="2.2"/><circle cx="947" cy="698.8" r="2.2"/><circle cx="961.1" cy="697.6" r="2.2"/><circle cx="949.2" cy="714.2" r="2.2"/><circle cx="950.7" cy="714.2" r="2.2"/><circle cx="950" cy="714.5" r="2.2"/><circle cx="953.8" cy="715.6" r="2.2"/><circle cx="946" cy="726.3" r="2.2"/><circle cx="956.8" cy="741.4" r="2.2"/><circle cx="954" cy="746.6" r="2.2"/><circle cx="958.3" cy="748.4" r="2.2"/><circle cx="947" cy="760.5" r="2.2"/><circle cx="950.5" cy="760.5" r="2.2"/><circle cx="957.4" cy="768.5" r="2.2"/><circle cx="1005.6" cy="697.6" r="2.2"/><circle cx="999" cy="748" r="2.2"/><circle cx="996.4" cy="756.2" r="2.2"/><circle cx="1033.8" cy="655.6" r="2.2"/><circle cx="1034.9" cy="707" r="2.2"/><circle cx="1050.8" cy="707" r="2.2"/><circle cx="1043" cy="714.2" r="2.2"/><circle cx="1035.5" cy="734.9" r="2.2"/><circle cx="1049.8" cy="764.4" r="2.2"/><circle cx="1083.2" cy="736.3" r="2.2"/><circle cx="1125.2" cy="726.5" r="2.2"/><circle cx="1126.6" cy="727.1" r="2.2"/><circle cx="1140.1" cy="726" r="2.2"/><circle cx="1141.3" cy="726.7" r="2.2"/><circle cx="899.7" cy="796.8" r="2.2"/><circle cx="900.2" cy="796.9" r="2.2"/><circle cx="906.1" cy="797" r="2.2"/><circle cx="913.2" cy="795.6" r="2.2"/><circle cx="1080.8" cy="796.4" r="2.2"/><circle cx="1087.3" cy="797.6" r="2.2"/><circle cx="811" cy="797.2" r="2.2"/><circle cx="813.5" cy="797" r="2.2"/><circle cx="816.5" cy="797.3" r="2.2"/><circle cx="819" cy="796.6" r="2.2"/><circle cx="820.5" cy="795.8" r="2.2"/><circle cx="822.5" cy="796.7" r="2.2"/><circle cx="824.2" cy="796.9" r="2.2"/><circle cx="685.81" cy="796.28" r="2.2"/><circle cx="682.61" cy="796.87" r="2.2"/><circle cx="674.24" cy="797.1" r="2.2"/><circle cx="684.67" cy="796.85" r="2.2"/><circle cx="682.73" cy="797.07" r="2.2"/><circle cx="675.41" cy="796.73" r="2.2"/><circle cx="679.9" cy="797.1" r="2.2"/><circle cx="683.6" cy="797.09" r="2.2"/><circle cx="680.88" cy="797.17" r="2.2"/><circle cx="682.1" cy="796.93" r="2.2"/><circle cx="676.53" cy="796.14" r="2.2"/><circle cx="675.34" cy="796.53" r="2.2"/><circle cx="674.99" cy="797.1" r="2.2"/><circle cx="680.57" cy="796.85" r="2.2"/><circle cx="681.4" cy="796.92" r="2.2"/><circle cx="679.72" cy="796.1" r="2.2"/><circle cx="683.51" cy="797" r="2.2"/><circle cx="679.89" cy="796.74" r="2.2"/><circle cx="681.81" cy="796.18" r="2.2"/><circle cx="682.76" cy="796.4" r="2.2"/><circle cx="674.62" cy="796.42" r="2.2"/><circle cx="682.67" cy="796.35" r="2.2"/><circle cx="682.8" cy="797.27" r="2.2"/><circle cx="679.78" cy="796.56" r="2.2"/><circle cx="679.59" cy="796.92" r="2.2"/><circle cx="683.13" cy="796.84" r="2.2"/><circle cx="681.61" cy="796.19" r="2.2"/><circle cx="675.51" cy="796.4" r="2.2"/><circle cx="682.84" cy="796.47" r="2.2"/><circle cx="680.68" cy="796.11" r="2.2"/><circle cx="727.18" cy="796.47" r="2.2"/><circle cx="728.95" cy="796.89" r="2.2"/><circle cx="728.96" cy="796.49" r="2.2"/><circle cx="728.5" cy="796.66" r="2.2"/><circle cx="728.35" cy="796.32" r="2.2"/><circle cx="729.59" cy="796.4" r="2.2"/><circle cx="729.84" cy="797.14" r="2.2"/><circle cx="727.05" cy="796.66" r="2.2"/><circle cx="729.38" cy="797.17" r="2.2"/><circle cx="728.3" cy="796.47" r="2.2"/><circle cx="727.61" cy="797.15" r="2.2"/><circle cx="727.61" cy="796.78" r="2.2"/><circle cx="766.15" cy="796.84" r="2.2"/><circle cx="781.32" cy="796.21" r="2.2"/><circle cx="778.84" cy="796.81" r="2.2"/><circle cx="780.08" cy="797.13" r="2.2"/><circle cx="767.83" cy="797.44" r="2.2"/><circle cx="772.59" cy="796.04" r="2.2"/><circle cx="763.57" cy="796.79" r="2.2"/><circle cx="771.93" cy="796.48" r="2.2"/><circle cx="766.13" cy="796.55" r="2.2"/><circle cx="769.41" cy="797.34" r="2.2"/><circle cx="763.53" cy="797.2" r="2.2"/><circle cx="779.19" cy="796.19" r="2.2"/><circle cx="780.82" cy="797.14" r="2.2"/><circle cx="780.36" cy="796.46" r="2.2"/><circle cx="770.46" cy="796.63" r="2.2"/><circle cx="782.18" cy="796.94" r="2.2"/><circle cx="770.25" cy="796.68" r="2.2"/><circle cx="768.65" cy="796.08" r="2.2"/><circle cx="765.4" cy="797.34" r="2.2"/><circle cx="768.84" cy="797.5" r="2.2"/><circle cx="768.16" cy="796.43" r="2.2"/><circle cx="773.06" cy="796.3" r="2.2"/><circle cx="770.48" cy="797.53" r="2.2"/><circle cx="780.04" cy="797.3" r="2.2"/><circle cx="775.3" cy="797.46" r="2.2"/><circle cx="781.09" cy="796.88" r="2.2"/><circle cx="776.96" cy="796.08" r="2.2"/><circle cx="777.19" cy="796.72" r="2.2"/><circle cx="777.57" cy="797.03" r="2.2"/><circle cx="768.85" cy="796.08" r="2.2"/><circle cx="780.83" cy="796.2" r="2.2"/><circle cx="772.33" cy="796.55" r="2.2"/><circle cx="769.07" cy="797.18" r="2.2"/><circle cx="781.76" cy="796.42" r="2.2"/><circle cx="775.77" cy="796.48" r="2.2"/><circle cx="773.92" cy="796.63" r="2.2"/><circle cx="766.63" cy="796.26" r="2.2"/><circle cx="767.39" cy="797.45" r="2.2"/><circle cx="772.8" cy="796.35" r="2.2"/><circle cx="780.45" cy="797.59" r="2.2"/><circle cx="771.91" cy="796.22" r="2.2"/><circle cx="767.1" cy="796.15" r="2.2"/><circle cx="769.89" cy="796.15" r="2.2"/><circle cx="767.97" cy="796.41" r="2.2"/><circle cx="774.15" cy="797.42" r="2.2"/><circle cx="777.52" cy="796.66" r="2.2"/><circle cx="771.24" cy="796.84" r="2.2"/><circle cx="770.55" cy="796.54" r="2.2"/><circle cx="764.66" cy="796.44" r="2.2"/><circle cx="781.6" cy="796.2" r="2.2"/><circle cx="862.81" cy="797.01" r="2.2"/><circle cx="869.25" cy="796.35" r="2.2"/><circle cx="858.65" cy="796.4" r="2.2"/><circle cx="860.96" cy="796.71" r="2.2"/><circle cx="870.88" cy="797.36" r="2.2"/><circle cx="869.42" cy="796.03" r="2.2"/><circle cx="854.38" cy="797.14" r="2.2"/><circle cx="869.83" cy="796.76" r="2.2"/><circle cx="864.31" cy="796" r="2.2"/><circle cx="860.81" cy="797.48" r="2.2"/><circle cx="868.58" cy="797.37" r="2.2"/><circle cx="871.2" cy="796.4" r="2.2"/><circle cx="855.75" cy="796.25" r="2.2"/><circle cx="863.15" cy="797.09" r="2.2"/><circle cx="870.65" cy="797.15" r="2.2"/><circle cx="865.39" cy="797.22" r="2.2"/><circle cx="861.99" cy="796.88" r="2.2"/><circle cx="854.51" cy="797.25" r="2.2"/><circle cx="857.96" cy="797.47" r="2.2"/><circle cx="865.35" cy="796.49" r="2.2"/><circle cx="856.09" cy="796.4" r="2.2"/><circle cx="865.19" cy="797.12" r="2.2"/><circle cx="855.81" cy="796.11" r="2.2"/><circle cx="863.19" cy="796.93" r="2.2"/><circle cx="860.75" cy="796.36" r="2.2"/><circle cx="864.56" cy="796.02" r="2.2"/><circle cx="859.2" cy="796.74" r="2.2"/><circle cx="870.97" cy="797.03" r="2.2"/><circle cx="869.62" cy="796.76" r="2.2"/><circle cx="858" cy="796.4" r="2.2"/><circle cx="870.99" cy="797.13" r="2.2"/><circle cx="859.3" cy="796.03" r="2.2"/><circle cx="862.72" cy="797.08" r="2.2"/><circle cx="861.32" cy="796.41" r="2.2"/><circle cx="865.75" cy="797.48" r="2.2"/><circle cx="857.86" cy="796.05" r="2.2"/><circle cx="859.85" cy="796.67" r="2.2"/><circle cx="866.02" cy="796.32" r="2.2"/><circle cx="868.07" cy="797.18" r="2.2"/><circle cx="862.84" cy="796.33" r="2.2"/><circle cx="871.16" cy="796.5" r="2.2"/><circle cx="868.48" cy="796.37" r="2.2"/><circle cx="857.76" cy="797.22" r="2.2"/><circle cx="859.08" cy="797.52" r="2.2"/><circle cx="862.67" cy="796.3" r="2.2"/><circle cx="857.8" cy="796.67" r="2.2"/><circle cx="865.71" cy="797.52" r="2.2"/><circle cx="856.42" cy="796.63" r="2.2"/><circle cx="857.61" cy="797.56" r="2.2"/><circle cx="856.34" cy="796.08" r="2.2"/><circle cx="945.14" cy="796.63" r="2.2"/><circle cx="959.64" cy="797.41" r="2.2"/><circle cx="956.78" cy="797.6" r="2.2"/><circle cx="960.22" cy="796.53" r="2.2"/><circle cx="947.31" cy="797.5" r="2.2"/><circle cx="957.01" cy="796.05" r="2.2"/><circle cx="955.59" cy="796.61" r="2.2"/><circle cx="950.57" cy="796.53" r="2.2"/><circle cx="947.03" cy="796" r="2.2"/><circle cx="948.94" cy="796.56" r="2.2"/><circle cx="960.63" cy="796.2" r="2.2"/><circle cx="960.78" cy="796.33" r="2.2"/><circle cx="950.27" cy="797.31" r="2.2"/><circle cx="958.32" cy="796.69" r="2.2"/><circle cx="944.95" cy="796.76" r="2.2"/><circle cx="950.55" cy="797.47" r="2.2"/><circle cx="947.44" cy="796.58" r="2.2"/><circle cx="959.62" cy="796.05" r="2.2"/><circle cx="951.21" cy="797.3" r="2.2"/><circle cx="957.36" cy="796.07" r="2.2"/><circle cx="944.7" cy="796.1" r="2.2"/><circle cx="960.02" cy="796.41" r="2.2"/><circle cx="957.03" cy="797.44" r="2.2"/><circle cx="949.97" cy="796.44" r="2.2"/><circle cx="960.67" cy="796.99" r="2.2"/><circle cx="948.64" cy="797.15" r="2.2"/><circle cx="949.58" cy="796.44" r="2.2"/><circle cx="944.17" cy="797.21" r="2.2"/><circle cx="959.95" cy="797.01" r="2.2"/><circle cx="960.42" cy="796.04" r="2.2"/><circle cx="948.15" cy="796.76" r="2.2"/><circle cx="960.65" cy="797.53" r="2.2"/><circle cx="950.79" cy="796.4" r="2.2"/><circle cx="951.54" cy="796.79" r="2.2"/><circle cx="960.16" cy="796.29" r="2.2"/><circle cx="957.98" cy="797.18" r="2.2"/><circle cx="958.33" cy="797.24" r="2.2"/><circle cx="954.61" cy="796.52" r="2.2"/><circle cx="949.63" cy="796.58" r="2.2"/><circle cx="957.63" cy="796.13" r="2.2"/><circle cx="947.51" cy="797.2" r="2.2"/><circle cx="948.38" cy="796.1" r="2.2"/><circle cx="944.69" cy="796.88" r="2.2"/><circle cx="949.74" cy="797.57" r="2.2"/><circle cx="959.38" cy="797.58" r="2.2"/><circle cx="991.02" cy="796.23" r="2.2"/><circle cx="990.24" cy="796.9" r="2.2"/><circle cx="993.06" cy="796.82" r="2.2"/><circle cx="990.88" cy="796.77" r="2.2"/><circle cx="992.65" cy="797.18" r="2.2"/><circle cx="993.24" cy="797.46" r="2.2"/><circle cx="992.86" cy="796.29" r="2.2"/><circle cx="993.67" cy="796.57" r="2.2"/><circle cx="992.41" cy="796.7" r="2.2"/><circle cx="993.2" cy="796.42" r="2.2"/><circle cx="990.94" cy="796.49" r="2.2"/><circle cx="990.51" cy="797.51" r="2.2"/><circle cx="992.46" cy="796.62" r="2.2"/><circle cx="991.62" cy="797.69" r="2.2"/><circle cx="1001.1" cy="795.8" r="2.2"/><circle cx="1004.6" cy="796.4" r="2.2"/><circle cx="998.5" cy="796.3" r="2.2"/><circle cx="1042.87" cy="796.37" r="2.2"/><circle cx="1047.9" cy="797.05" r="2.2"/><circle cx="1050.95" cy="796.16" r="2.2"/><circle cx="1042.33" cy="797.31" r="2.2"/><circle cx="1048.44" cy="797.46" r="2.2"/><circle cx="1035.07" cy="796.47" r="2.2"/><circle cx="1036.39" cy="796.3" r="2.2"/><circle cx="1050.65" cy="796.93" r="2.2"/><circle cx="1049.93" cy="796.6" r="2.2"/><circle cx="1048.86" cy="796.72" r="2.2"/><circle cx="1038.74" cy="797.24" r="2.2"/><circle cx="1050.19" cy="796.17" r="2.2"/><circle cx="1044.36" cy="796.99" r="2.2"/><circle cx="1038.03" cy="796.59" r="2.2"/><circle cx="1036.76" cy="796.33" r="2.2"/><circle cx="1038.66" cy="796.96" r="2.2"/><circle cx="1045.28" cy="796.33" r="2.2"/><circle cx="1034.59" cy="796.52" r="2.2"/><circle cx="1045.73" cy="796.3" r="2.2"/><circle cx="1039.61" cy="796.33" r="2.2"/><circle cx="1047.68" cy="796.88" r="2.2"/><circle cx="1035.46" cy="796.16" r="2.2"/><circle cx="1041" cy="796.88" r="2.2"/><circle cx="1045.07" cy="796.15" r="2.2"/><circle cx="1037.13" cy="797.11" r="2.2"/><circle cx="1041.24" cy="796.45" r="2.2"/><circle cx="1039.54" cy="797.53" r="2.2"/><circle cx="1039.62" cy="796.91" r="2.2"/><circle cx="1040.36" cy="796.67" r="2.2"/><circle cx="1048.83" cy="797.59" r="2.2"/><circle cx="1040.48" cy="796.32" r="2.2"/><circle cx="1046.56" cy="796.33" r="2.2"/><circle cx="1034.5" cy="797.44" r="2.2"/><circle cx="1041.48" cy="797.31" r="2.2"/><circle cx="1041.18" cy="797.41" r="2.2"/><circle cx="1042.1" cy="796.26" r="2.2"/><circle cx="1034.65" cy="796.88" r="2.2"/><circle cx="1045.1" cy="797.46" r="2.2"/><circle cx="1035.89" cy="797" r="2.2"/><circle cx="1040.59" cy="796.81" r="2.2"/><circle cx="1036.84" cy="796.45" r="2.2"/><circle cx="1043.1" cy="797.48" r="2.2"/><circle cx="1036.22" cy="796.78" r="2.2"/><circle cx="1047.84" cy="797.55" r="2.2"/><circle cx="1037.7" cy="796.2" r="2.2"/><circle cx="1139.84" cy="797.85" r="2.2"/><circle cx="1132.11" cy="796.01" r="2.2"/><circle cx="1139.56" cy="796.68" r="2.2"/><circle cx="1139.19" cy="797.14" r="2.2"/><circle cx="1137.85" cy="796.22" r="2.2"/><circle cx="1137.2" cy="796.34" r="2.2"/><circle cx="1130.8" cy="797.59" r="2.2"/><circle cx="1137.93" cy="796.27" r="2.2"/><circle cx="1127.66" cy="796.7" r="2.2"/><circle cx="1132.7" cy="796.67" r="2.2"/><circle cx="1126.07" cy="796.39" r="2.2"/><circle cx="1136.18" cy="797.69" r="2.2"/><circle cx="1124.69" cy="797.02" r="2.2"/><circle cx="1136.73" cy="795.98" r="2.2"/><circle cx="1138.08" cy="796.14" r="2.2"/><circle cx="1134.07" cy="797" r="2.2"/></g>
<rect x="656.4" y="492.2" width="502.9" height="319.5" fill="none" stroke="#7d7d7d" stroke-width="1.1"/>
<line x1="651.9" y1="796.7" x2="656.4" y2="796.7" stroke="#3a3a3a" stroke-width="1.8" stroke-linecap="butt"/>
<text x="648.3" y="801.35" font-size="13" text-anchor="end" fill="#555555" stroke="#555555" stroke-width="0.3">0.0</text>
<line x1="651.9" y1="698.33" x2="656.4" y2="698.33" stroke="#3a3a3a" stroke-width="1.8" stroke-linecap="butt"/>
<text x="648.3" y="702.99" font-size="13" text-anchor="end" fill="#555555" stroke="#555555" stroke-width="0.3">0.2</text>
<line x1="651.9" y1="599.97" x2="656.4" y2="599.97" stroke="#3a3a3a" stroke-width="1.8" stroke-linecap="butt"/>
<text x="648.3" y="604.62" font-size="13" text-anchor="end" fill="#555555" stroke="#555555" stroke-width="0.3">0.4</text>
<line x1="651.9" y1="501.6" x2="656.4" y2="501.6" stroke="#3a3a3a" stroke-width="1.8" stroke-linecap="butt"/>
<text x="648.3" y="506.25" font-size="13" text-anchor="end" fill="#555555" stroke="#555555" stroke-width="0.3">0.6</text>
<line x1="682.8" y1="811.7" x2="682.8" y2="816.2" stroke="#3a3a3a" stroke-width="2.0" stroke-linecap="butt"/>
<line x1="727.8" y1="811.7" x2="727.8" y2="816.2" stroke="#3a3a3a" stroke-width="2.0" stroke-linecap="butt"/>
<text transform="translate(734 826.6) rotate(-45)" font-size="13.2" text-anchor="end" fill="#555555" stroke="#555555" stroke-width="0.3">Aarlon</text>
<line x1="772.8" y1="811.7" x2="772.8" y2="816.2" stroke="#3a3a3a" stroke-width="2.0" stroke-linecap="butt"/>
<text transform="translate(779 826.6) rotate(-45)" font-size="13.2" text-anchor="end" fill="#555555" stroke="#555555" stroke-width="0.3">Brugge</text>
<line x1="817.8" y1="811.7" x2="817.8" y2="816.2" stroke="#3a3a3a" stroke-width="2.0" stroke-linecap="butt"/>
<text transform="translate(824 826.6) rotate(-45)" font-size="13.2" text-anchor="end" fill="#555555" stroke="#555555" stroke-width="0.3">Brussels</text>
<line x1="862.8" y1="811.7" x2="862.8" y2="816.2" stroke="#3a3a3a" stroke-width="2.0" stroke-linecap="butt"/>
<text transform="translate(869 826.6) rotate(-45)" font-size="13.2" text-anchor="end" fill="#555555" stroke="#555555" stroke-width="0.3">Gent</text>
<line x1="907.8" y1="811.7" x2="907.8" y2="816.2" stroke="#3a3a3a" stroke-width="2.0" stroke-linecap="butt"/>
<text transform="translate(914 826.6) rotate(-45)" font-size="13.2" text-anchor="end" fill="#555555" stroke="#555555" stroke-width="0.3">Ieper</text>
<line x1="952.8" y1="811.7" x2="952.8" y2="816.2" stroke="#3a3a3a" stroke-width="2.0" stroke-linecap="butt"/>
<text transform="translate(959 826.6) rotate(-45)" font-size="13.2" text-anchor="end" fill="#555555" stroke="#555555" stroke-width="0.3">Jurbise</text>
<line x1="997.8" y1="811.7" x2="997.8" y2="816.2" stroke="#3a3a3a" stroke-width="2.0" stroke-linecap="butt"/>
<text transform="translate(1004 826.6) rotate(-45)" font-size="13.2" text-anchor="end" fill="#555555" stroke="#555555" stroke-width="0.3">Marche en Famenne</text>
<line x1="1042.8" y1="811.7" x2="1042.8" y2="816.2" stroke="#3a3a3a" stroke-width="2.0" stroke-linecap="butt"/>
<text transform="translate(1049 826.6) rotate(-45)" font-size="13.2" text-anchor="end" fill="#555555" stroke="#555555" stroke-width="0.3">Soignies</text>
<line x1="1087.8" y1="811.7" x2="1087.8" y2="816.2" stroke="#3a3a3a" stroke-width="2.0" stroke-linecap="butt"/>
<text transform="translate(1094 826.6) rotate(-45)" font-size="13.2" text-anchor="end" fill="#555555" stroke="#555555" stroke-width="0.3">Tournai</text>
<line x1="1132.8" y1="811.7" x2="1132.8" y2="816.2" stroke="#3a3a3a" stroke-width="2.0" stroke-linecap="butt"/>
<text transform="translate(1139 826.6) rotate(-45)" font-size="13.2" text-anchor="end" fill="#555555" stroke="#555555" stroke-width="0.3">Wevelgem</text>
<text x="1199" y="22.5" font-size="23.2" text-anchor="start" fill="#000" stroke="#000" stroke-width="0.35">E</text>
<text x="1388.25" y="23.1" font-size="16" text-anchor="middle" fill="#000" stroke="#000" stroke-width="0.35">Validation phase - positive samples</text>
<text transform="translate(1214.3 202.3) rotate(-90)" font-size="16.5" text-anchor="middle" fill="#000" stroke="#000" stroke-width="0.35">Percentage of Marked</text>
<line x1="1325" y1="189.2" x2="1325" y2="201.9" stroke="#2a2a2a" stroke-width="1.15" stroke-linecap="butt"/>
<line x1="1325" y1="108.2" x2="1325" y2="61.3" stroke="#2a2a2a" stroke-width="1.15" stroke-linecap="butt"/>
<rect x="1277.5" y="108.2" width="95" height="81" fill="#fff" stroke="#2a2a2a" stroke-width="1.15" stroke-linejoin="miter"/>
<line x1="1277.5" y1="117.7" x2="1372.5" y2="117.7" stroke="#2a2a2a" stroke-width="2.2" stroke-linecap="butt"/>
<line x1="1451.3" y1="125.8" x2="1451.3" y2="201.9" stroke="#2a2a2a" stroke-width="1.15" stroke-linecap="butt"/>
<rect x="1403.8" y="61.3" width="95" height="64.5" fill="#fff" stroke="#2a2a2a" stroke-width="1.15" stroke-linejoin="miter"/>
<line x1="1403.8" y1="61.6" x2="1498.8" y2="61.6" stroke="#2a2a2a" stroke-width="2.2" stroke-linecap="butt"/>
<path d="M1325 53.6V47.4H1451.3V53.6" fill="none" stroke="#111111" stroke-width="1.2"/>
<text x="1388.15" y="45" font-size="10.1" text-anchor="middle" fill="#111" stroke="#111" stroke-width="0.12">0.0031</text>
<g fill="none" stroke="#111111" stroke-width="0.95"><circle cx="1304.2" cy="60.1" r="1.9"/><circle cx="1325.9" cy="101.3" r="1.9"/><circle cx="1313.7" cy="107.8" r="1.9"/><circle cx="1348.4" cy="107.5" r="1.9"/><circle cx="1347.9" cy="109.9" r="1.9"/><circle cx="1311.4" cy="117.5" r="1.9"/><circle cx="1330.8" cy="117" r="1.9"/><circle cx="1346.5" cy="155" r="1.9"/><circle cx="1349.3" cy="155" r="1.9"/><circle cx="1350" cy="189" r="1.9"/><circle cx="1318.5" cy="201.2" r="1.9"/><circle cx="1336.1" cy="201" r="1.9"/><circle cx="1336.4" cy="201.2" r="1.9"/><circle cx="1441.1" cy="95.3" r="1.9"/><circle cx="1440.2" cy="100.8" r="1.9"/><circle cx="1432.3" cy="102.7" r="1.9"/><circle cx="1457.3" cy="102.5" r="1.9"/><circle cx="1442.3" cy="109.6" r="1.9"/><circle cx="1434.4" cy="114.2" r="1.9"/><circle cx="1434.4" cy="122.8" r="1.9"/><circle cx="1474.6" cy="124.2" r="1.9"/><circle cx="1428.4" cy="133.2" r="1.9"/><circle cx="1467.7" cy="133.4" r="1.9"/><circle cx="1431.6" cy="142.5" r="1.9"/><circle cx="1435.8" cy="156.1" r="1.9"/><circle cx="1458" cy="155.6" r="1.9"/><circle cx="1473" cy="168.1" r="1.9"/><circle cx="1449.4" cy="178.8" r="1.9"/><circle cx="1426.3" cy="203.1" r="1.9"/><circle cx="1439.3" cy="201.4" r="1.9"/><circle cx="1456.1" cy="201.7" r="1.9"/><circle cx="1474.6" cy="201" r="1.9"/><circle cx="1442" cy="230.5" r="1.9"/><circle cx="1469.8" cy="231.4" r="1.9"/><circle cx="1437.6" cy="284.8" r="1.9"/><circle cx="1432.8" cy="341.9" r="1.9"/><circle cx="1429.8" cy="61" r="1.9"/><circle cx="1430.1" cy="63.3" r="1.9"/><circle cx="1435.5" cy="60.5" r="1.9"/><circle cx="1435.6" cy="63" r="1.9"/><circle cx="1436.6" cy="61.8" r="1.9"/><circle cx="1442.4" cy="61.4" r="1.9"/><circle cx="1443.6" cy="61.9" r="1.9"/><circle cx="1447.7" cy="61.7" r="1.9"/><circle cx="1449.3" cy="62.5" r="1.9"/><circle cx="1450.6" cy="62" r="1.9"/><circle cx="1452.4" cy="61.6" r="1.9"/><circle cx="1456.2" cy="60.5" r="1.9"/><circle cx="1456.3" cy="63.3" r="1.9"/><circle cx="1459.2" cy="60.2" r="1.9"/><circle cx="1460.6" cy="61.6" r="1.9"/><circle cx="1463.8" cy="61.7" r="1.9"/><circle cx="1464.6" cy="63.3" r="1.9"/><circle cx="1466.4" cy="62.2" r="1.9"/><circle cx="1469.9" cy="61" r="1.9"/><circle cx="1471.6" cy="61.6" r="1.9"/><circle cx="1473.8" cy="61.7" r="1.9"/><circle cx="1445.9" cy="62.3" r="1.9"/><circle cx="1432.8" cy="62" r="1.9"/><circle cx="1457.8" cy="61.9" r="1.9"/></g>
<rect x="1249.5" y="33.1" width="277.5" height="323.2" fill="none" stroke="#7d7d7d" stroke-width="1.0"/>
<line x1="1245.9" y1="342.2" x2="1249.5" y2="342.2" stroke="#3a3a3a" stroke-width="1.2" stroke-linecap="butt"/>
<text x="1243.1" y="345.89" font-size="10.3" text-anchor="end" fill="#606060" stroke="#606060" stroke-width="0.1">0.00</text>
<line x1="1245.9" y1="272.02" x2="1249.5" y2="272.02" stroke="#3a3a3a" stroke-width="1.2" stroke-linecap="butt"/>
<text x="1243.1" y="275.71" font-size="10.3" text-anchor="end" fill="#606060" stroke="#606060" stroke-width="0.1">0.25</text>
<line x1="1245.9" y1="201.85" x2="1249.5" y2="201.85" stroke="#3a3a3a" stroke-width="1.2" stroke-linecap="butt"/>
<text x="1243.1" y="205.54" font-size="10.3" text-anchor="end" fill="#606060" stroke="#606060" stroke-width="0.1">0.50</text>
<line x1="1245.9" y1="131.68" x2="1249.5" y2="131.68" stroke="#3a3a3a" stroke-width="1.2" stroke-linecap="butt"/>
<text x="1243.1" y="135.36" font-size="10.3" text-anchor="end" fill="#606060" stroke="#606060" stroke-width="0.1">0.75</text>
<line x1="1245.9" y1="61.5" x2="1249.5" y2="61.5" stroke="#3a3a3a" stroke-width="1.2" stroke-linecap="butt"/>
<text x="1243.1" y="65.19" font-size="10.3" text-anchor="end" fill="#606060" stroke="#606060" stroke-width="0.1">1.00</text>
<line x1="1325" y1="356.3" x2="1325" y2="359.9" stroke="#3a3a3a" stroke-width="1.2" stroke-linecap="butt"/>
<text x="1325" y="370.89" font-size="10.3" text-anchor="middle" fill="#606060" stroke="#606060" stroke-width="0.1">15</text>
<line x1="1451.3" y1="356.3" x2="1451.3" y2="359.9" stroke="#3a3a3a" stroke-width="1.2" stroke-linecap="butt"/>
<text x="1451.3" y="370.89" font-size="10.3" text-anchor="middle" fill="#606060" stroke="#606060" stroke-width="0.1">30</text>
<text x="1388.25" y="386.1" font-size="13.2" text-anchor="middle" fill="#000" stroke="#000" stroke-width="0.35">Sampling duration</text>
</svg>
</body>
</html>
